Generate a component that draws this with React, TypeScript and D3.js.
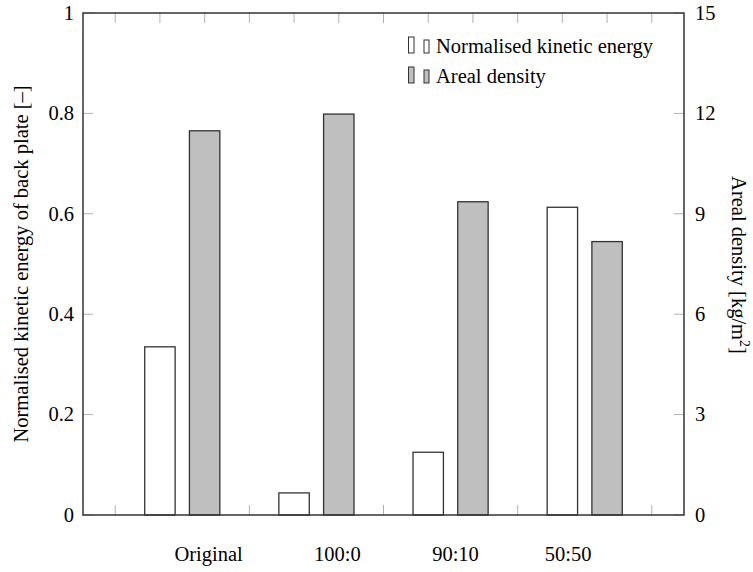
import * as d3 from "d3";

const categories = ["Original", "100:0", "90:10", "50:50"];
const kineticEnergy = [0.335, 0.044, 0.125, 0.613];
const arealDensity = [11.48, 11.98, 9.36, 8.17];
const leftTicks = [0, 0.2, 0.4, 0.6, 0.8, 1];
const rightTicks = [0, 3, 6, 9, 12, 15];
// where pgfplots put the category labels, in x units
const labelAt = [2.09, 4.97, 7.61, 10.13];

const width = 753;
const height = 572;
const margin = { top: 13, right: 69, bottom: 57, left: 83 };
const plotRight = width - margin.right;
const plotBottom = height - margin.bottom;
const font = '"Liberation Serif", "Times New Roman", serif';
const axisColor = "#333";
const tickColor = "#b0b0b0";
const greyFill = "#bfbfbf";

export default function App() {
  const x = d3.scaleLinear().domain([-0.72, 12.72]).range([margin.left, plotRight]);
  const yLeft = d3.scaleLinear().domain([0, 1]).range([plotBottom, margin.top]);
  const yRight = d3.scaleLinear().domain([0, 15]).range([plotBottom, margin.top]);
  const barW = x(0.68) - x(0);
  const xTicks = d3.range(0, 13);
  const textStyle = { fontFamily: font, fontSize: "20.5px" };

  const legendItems = [
    { label: "Normalised kinetic energy", fill: "#fff", y: 53 },
    { label: "Areal density", fill: greyFill, y: 83 },
  ];

  return (
    <svg
      width={width}
      height={height}
      style={{ position: "absolute", left: 0, top: 0, background: "#fff", fontFamily: font }}
    >
      {/* inward ticks */}
      {xTicks.map((t) => (
        <g key={"xt" + t} stroke={tickColor} strokeWidth={1}>
          <line x1={x(t)} x2={x(t)} y1={plotBottom} y2={plotBottom - 10} />
          <line x1={x(t)} x2={x(t)} y1={margin.top} y2={margin.top + 10} />
        </g>
      ))}
      {leftTicks.map((t) => (
        <line
          key={"lt" + t}
          x1={margin.left}
          x2={margin.left + 10}
          y1={yLeft(t)}
          y2={yLeft(t)}
          stroke={tickColor}
        />
      ))}
      {rightTicks.map((t) => (
        <line
          key={"rt" + t}
          x1={plotRight}
          x2={plotRight - 10}
          y1={yRight(t)}
          y2={yRight(t)}
          stroke={tickColor}
        />
      ))}

      {/* bars: white on the left axis, grey on the right axis */}
      {categories.map((c, i) => (
        <g key={c} stroke={axisColor} strokeWidth={1.3}>
          <rect
            x={x(3 * i + 1) - barW / 2}
            y={yLeft(kineticEnergy[i])}
            width={barW}
            height={plotBottom - yLeft(kineticEnergy[i])}
            fill="#fff"
          />
          <rect
            x={x(3 * i + 2) - barW / 2}
            y={yRight(arealDensity[i])}
            width={barW}
            height={plotBottom - yRight(arealDensity[i])}
            fill={greyFill}
          />
        </g>
      ))}

      <rect
        x={margin.left}
        y={margin.top}
        width={plotRight - margin.left}
        height={plotBottom - margin.top}
        fill="none"
        stroke={axisColor}
        strokeWidth={1.5}
      />

      {leftTicks.map((t) => (
        <text
          key={"ll" + t}
          x={margin.left - 9}
          y={yLeft(t)}
          dy="0.33em"
          textAnchor="end"
          style={textStyle}
        >
          {d3.format("~g")(t)}
        </text>
      ))}
      {rightTicks.map((t) => (
        <text key={"rl" + t} x={plotRight + 11} y={yRight(t)} dy="0.33em" style={textStyle}>
          {t}
        </text>
      ))}
      {categories.map((c, i) => (
        <text key={"cl" + c} x={x(labelAt[i])} y={561} textAnchor="middle" style={textStyle}>
          {c}
        </text>
      ))}

      <text
        transform={`translate(28, ${(margin.top + plotBottom) / 2}) rotate(-90)`}
        textAnchor="middle"
        style={textStyle}
      >
        Normalised kinetic energy of back plate [–]
      </text>
      <text
        transform={`translate(732, ${(margin.top + plotBottom) / 2 + 1}) rotate(90)`}
        textAnchor="middle"
        style={textStyle}
      >
        Areal density [kg/m<tspan dy="-8" style={{ fontSize: "14px" }}>2</tspan>
        <tspan dy="8">]</tspan>
      </text>

      {legendItems.map((item) => (
        <g key={item.label}>
          <rect
            x={408.5}
            y={item.y - 16}
            width={5.5}
            height={16}
            fill={item.fill}
            stroke={axisColor}
            strokeWidth={1}
          />
          <rect
            x={424}
            y={item.y - 13}
            width={5}
            height={13}
            fill={item.fill}
            stroke={axisColor}
            strokeWidth={1}
          />
          <text x={436} y={item.y} style={textStyle}>
            {item.label}
          </text>
        </g>
      ))}
    </svg>
  );
}
